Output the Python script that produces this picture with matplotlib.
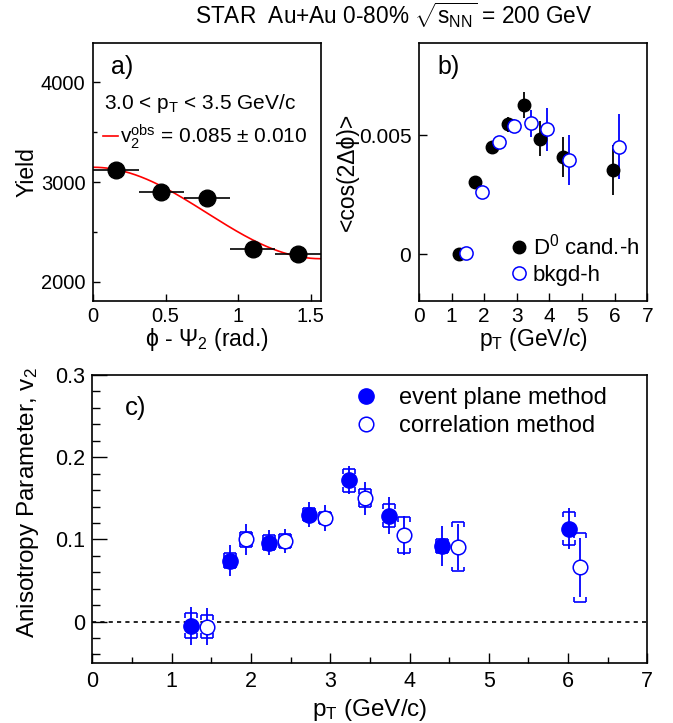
import numpy as np
import matplotlib
matplotlib.use("Agg")
import matplotlib.pyplot as plt

plt.rcParams['font.family'] = ['Liberation Sans', 'DejaVu Sans']
plt.rcParams['mathtext.fontset'] = 'custom'
plt.rcParams['mathtext.rm'] = 'Liberation Sans'
plt.rcParams['mathtext.it'] = 'Liberation Sans:italic'
plt.rcParams['mathtext.bf'] = 'Liberation Sans:bold'
plt.rcParams['mathtext.default'] = 'regular'

# a) yield vs phi - Psi_2 for 3.0 < pT < 3.5 GeV/c
dphi = [0.157, 0.471, 0.785, 1.100, 1.414]
dphi_halfwidth = [0.157, 0.157, 0.157, 0.157, 0.157]
yields = [3123, 2896, 2840, 2333, 2283]
fit_norm = 2690
fit_v2 = 0.085

# b) <cos(2 dphi)> for D0 candidates and background
d0h_pt = [1.23, 1.73, 2.23, 2.73, 3.23, 3.72, 4.40, 5.94]
d0h_cos = [0.0000, 0.00304, 0.00450, 0.00545, 0.00626, 0.00486, 0.00409, 0.00354]
d0h_err = [0.0002, 0.0002, 0.00025, 0.0003, 0.00055, 0.00075, 0.00085, 0.00105]
bkgh_pt = [1.44, 1.94, 2.45, 2.92, 3.43, 3.93, 4.59, 6.14]
bkgh_cos = [0.00007, 0.00263, 0.00473, 0.00538, 0.00550, 0.00524, 0.00396, 0.00452]
bkgh_err = [0.0002, 0.0002, 0.0002, 0.0003, 0.00056, 0.0009, 0.00105, 0.00135]

# c) v2 from event plane and correlation methods
ep_pt = [1.24, 1.74, 2.23, 2.73, 3.24, 3.74, 4.41, 6.01]
ep_v2 = [-0.005, 0.074, 0.096, 0.130, 0.172, 0.129, 0.092, 0.113]
ep_stat = [0.023, 0.019, 0.015, 0.015, 0.017, 0.022, 0.024, 0.025]
ep_sys = [0.015, 0.009, 0.009, 0.008, 0.014, 0.014, 0.009, 0.020]
corr_pt = [1.45, 1.94, 2.43, 2.93, 3.44, 3.93, 4.61, 6.15]
corr_v2 = [-0.006, 0.100, 0.098, 0.126, 0.150, 0.105, 0.091, 0.066]
corr_stat = [0.023, 0.019, 0.015, 0.016, 0.020, 0.024, 0.028, 0.036]
corr_sys = [0.014, 0.009, 0.008, 0.007, 0.011, 0.022, 0.030, 0.042]

blue = '#0000ff'

fig = plt.figure(figsize=(6.73, 7.23), dpi=100)
ax_a = fig.add_axes([0.1382, 0.5837, 0.3388, 0.3568])
ax_b = fig.add_axes([0.6226, 0.5837, 0.3392, 0.3568])
ax_c = fig.add_axes([0.1374, 0.0834, 0.8244, 0.3979])

for ax in (ax_a, ax_b, ax_c):
    for s in ax.spines.values():
        s.set_linewidth(1.2)

# ---- panel a
phi = np.linspace(0, np.pi / 2, 200)
fit = fit_norm * (1 + 2 * fit_v2 * np.cos(2 * phi))
ax_a.plot(phi, fit, color='#ff0000', lw=1.2, zorder=2,
          label=r'v$_2^{\mathrm{obs}}$ = 0.085 $\pm$ 0.010')
ax_a.errorbar(dphi, yields, xerr=dphi_halfwidth, fmt='o', color='k',
              ms=12, elinewidth=1.2, capsize=0, zorder=3)
ax_a.set_xlim(0, np.pi / 2)
ax_a.set_ylim(1810, 4390)
ax_a.set_xticks([0, 0.5, 1, 1.5], ['0', '0.5', '1', '1.5'])
ax_a.set_yticks([2000, 3000, 4000])
ax_a.set_yticks([2500, 3500], minor=True)
ax_a.tick_params(which='both', direction='in', labelsize=14.5, width=1)
ax_a.tick_params(axis='y', pad=5.5)
ax_a.tick_params(axis='x', pad=4)
ax_a.tick_params(which='major', length=5)
ax_a.tick_params(which='minor', length=3)
ax_a.text(0.079, 0.908, 'a)', transform=ax_a.transAxes, fontsize=18,
          ha='left', va='center')
ax_a.text(0.05, 0.764, r'3.0 < p$_\mathrm{T}$ < 3.5 GeV/c',
          transform=ax_a.transAxes, fontsize=15, ha='left', va='center')
ax_a.legend(loc='center left', bbox_to_anchor=(0.0425, 0.637), frameon=False,
            fontsize=15, handlelength=0.75, handletextpad=0.1,
            borderpad=0, borderaxespad=0)
ax_a.set_ylabel('Yield', fontsize=16.5, va='center')
ax_a.yaxis.set_label_coords(-0.289, 0.5)
ax_a.set_xlabel('\u03d5 - \u03a8$_2$ (rad.)', fontsize=16.5, va='center')
ax_a.xaxis.set_label_coords(0.5, -0.151)

# ---- panel b
ax_b.errorbar(d0h_pt, d0h_cos, yerr=d0h_err, fmt='none', ecolor='k',
              elinewidth=1.3, capsize=0, zorder=2)
ax_b.errorbar(bkgh_pt, bkgh_cos, yerr=bkgh_err, fmt='none', ecolor=blue,
              elinewidth=1.3, capsize=0, zorder=2)
ax_b.plot(d0h_pt, d0h_cos, 'o', color='k', ms=9, zorder=3,
          label='D$^0$ cand.-h')
ax_b.plot(bkgh_pt, bkgh_cos, 'o', mfc='white', mec=blue, mew=1.1, ms=9.5,
          zorder=4, label='bkgd-h')
ax_b.set_xlim(0, 7)
ax_b.set_ylim(-0.00196, 0.00887)
ax_b.set_xticks(range(8))
ax_b.set_yticks([0, 0.005], ['0', '0.005'])
ax_b.tick_params(which='both', direction='in', labelsize=15, width=1,
                 length=5.5)
ax_b.tick_params(axis='y', pad=5.5)
ax_b.tick_params(axis='x', pad=4)
ax_b.text(0.082, 0.908, 'b)', transform=ax_b.transAxes, fontsize=18,
          ha='left', va='center')
ax_b.legend(loc='center left', bbox_to_anchor=(0.399, 0.159), frameon=False,
            fontsize=16, handlelength=0.8, handletextpad=0.22,
            labelspacing=0.25, borderpad=0, borderaxespad=0)
ax_b.set_ylabel('<cos(2\u0394\u03d5)>', fontsize=16.5, va='center')
ax_b.yaxis.set_label_coords(-0.315, 0.5)
ax_b.set_xlabel(r'p$_\mathrm{T}$ (GeV/c)', fontsize=16.5, va='center')
ax_b.xaxis.set_label_coords(0.5, -0.151)


# ---- panel c
def sys_brackets(ax, x, y, sys, half=0.075, tick=0.006):
    x = np.asarray(x)
    y = np.asarray(y)
    sys = np.asarray(sys)
    top = y + sys
    bot = y - sys
    ax.hlines(top, x - half, x + half, color=blue, lw=1.2, zorder=2)
    ax.hlines(bot, x - half, x + half, color=blue, lw=1.2, zorder=2)
    for xe in (x - half, x + half):
        ax.vlines(xe, top - tick, top, color=blue, lw=1.2, zorder=2)
        ax.vlines(xe, bot, bot + tick, color=blue, lw=1.2, zorder=2)


ax_c.axhline(0, color='k', lw=1.2, ls=(0, (2.5, 2.5)), zorder=1)
sys_brackets(ax_c, corr_pt, corr_v2, corr_sys)
ax_c.errorbar(corr_pt, corr_v2, yerr=corr_stat, fmt='none', ecolor=blue,
              elinewidth=1.3, capsize=0, zorder=2)
ax_c.plot(corr_pt, corr_v2, 'o', mfc='white', mec=blue, mew=1.1, ms=10.5,
          zorder=3, label='correlation method')
sys_brackets(ax_c, ep_pt, ep_v2, ep_sys)
ax_c.errorbar(ep_pt, ep_v2, yerr=ep_stat, fmt='none', ecolor=blue,
              elinewidth=1.3, capsize=0, zorder=4)
ax_c.plot(ep_pt, ep_v2, 'o', color=blue, ms=11, zorder=5,
          label='event plane method')
ax_c.set_xlim(0, 7)
ax_c.set_ylim(-0.05, 0.3)
ax_c.set_xticks(range(8))
ax_c.set_xticks(np.arange(0.5, 7, 1.0), minor=True)
ax_c.set_yticks([0, 0.1, 0.2, 0.3], ['0', '0.1', '0.2', '0.3'])
ax_c.set_yticks([-0.04, -0.02, 0.02, 0.04, 0.06, 0.08, 0.12, 0.14, 0.16,
                 0.18, 0.22, 0.24, 0.26, 0.28], minor=True)
ax_c.tick_params(which='both', direction='in', labelsize=15.5, width=1)
ax_c.tick_params(axis='y', pad=5.5)
ax_c.tick_params(axis='x', pad=6)
ax_c.tick_params(axis='y', which='major', length=11)
ax_c.tick_params(axis='y', which='minor', length=6)
ax_c.tick_params(axis='x', which='major', length=7)
ax_c.tick_params(axis='x', which='minor', length=4.3)
ax_c.text(0.0586, 0.884, 'c)', transform=ax_c.transAxes, fontsize=18.5,
          ha='left', va='center')
handles, labels = ax_c.get_legend_handles_labels()
ax_c.legend(handles[::-1], labels[::-1], loc='center left',
            bbox_to_anchor=(0.467, 0.871), frameon=False, fontsize=17,
            handlelength=1.2, handletextpad=0.8, labelspacing=0.25,
            borderpad=0, borderaxespad=0)
ax_c.set_ylabel(r'Anisotropy Parameter, v$_2$', fontsize=17.5, loc='top',
                va='center')
ax_c.yaxis.set_label_coords(-0.117, 1.028)
ax_c.set_xlabel(r'p$_\mathrm{T}$ (GeV/c)', fontsize=17.5, va='center')
ax_c.xaxis.set_label_coords(0.5, -0.164)

fig.text(0.585, 1 - 15 / 723,
         r'STAR  Au+Au 0-80% $\sqrt{s_{\mathrm{NN}}}$ = 200 GeV',
         fontsize=16.3, ha='center', va='center')

fig.savefig('out.png', dpi=100)
